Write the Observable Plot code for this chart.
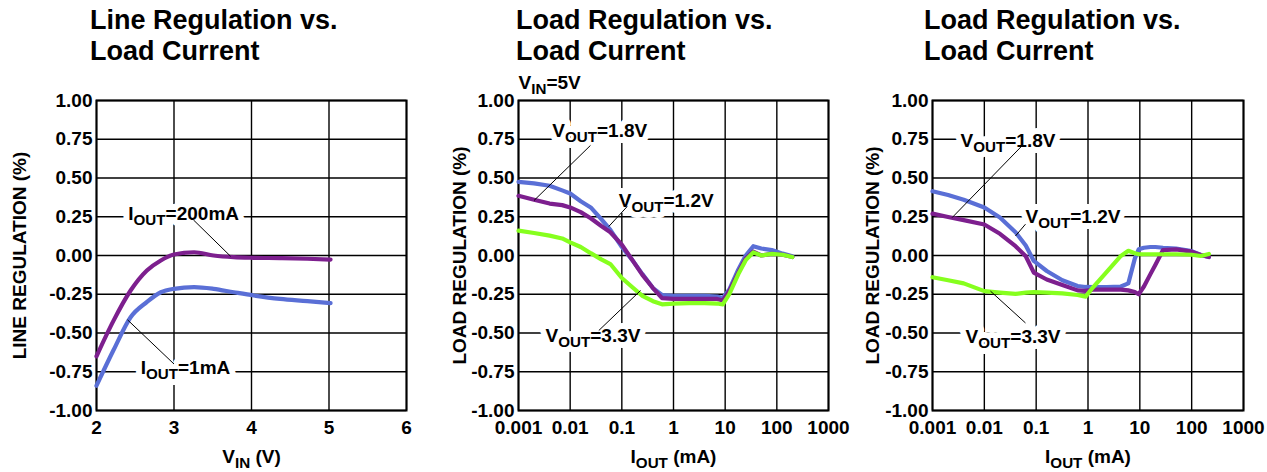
<!DOCTYPE html>
<html><head><meta charset="utf-8">
<script src="https://cdn.jsdelivr.net/npm/d3@7"></script>
<script src="https://cdn.jsdelivr.net/npm/@observablehq/plot@0.6"></script>
<style>
body{margin:0;background:#fff;}
#wrap{position:relative;width:1267px;height:472px;overflow:hidden;font-family:'Liberation Sans',Arial,sans-serif;background:#fff;}
.title{position:absolute;font-weight:bold;font-size:27px;line-height:31px;letter-spacing:0px;color:#000;white-space:nowrap;}
.panel{position:absolute;top:0;}
</style></head><body><div id="wrap"></div>
<script>
// ---------- tick values ----------
const yTicks = [-1, -0.75, -0.5, -0.25, 0, 0.25, 0.5, 0.75, 1];
const vinTicks = [2, 3, 4, 5, 6];
const ioutTicks = [0.001, 0.01, 0.1, 1, 10, 100, 1000];

// ---------- titles / axis labels ----------
const titles = [["Line Regulation vs.", "Load Current"], ["Load Regulation vs.", "Load Current"], ["Load Regulation vs.", "Load Current"]];
const yLabels = ["LINE REGULATION (%)", "LOAD REGULATION (%)", "LOAD REGULATION (%)"];
const xLabels = ["V|IN| (V)", "I|OUT| (mA)", "I|OUT| (mA)"];
const condition2 = "V|IN|=5V";

// ---------- panel 1: line regulation vs VIN ----------
const p1Vin    = [2.0, 2.22, 2.44, 2.65, 2.83, 3.0, 3.26, 3.51, 3.77, 4.03, 4.37, 4.72, 5.02];
const p1I200mA = [-0.65, -0.42, -0.226, -0.097, -0.032, 0.006, 0.021, 0.0, -0.011, -0.015, -0.017, -0.021, -0.026];
const p1I1mA   = [-0.84, -0.61, -0.398, -0.30, -0.237, -0.215, -0.204, -0.215, -0.237, -0.258, -0.28, -0.294, -0.307];
const p1Labels = [{x: 2.41, y: 0.232, text: "I|OUT|=200mA"}, {x: 2.57, y: -0.765, text: "I|OUT|=1mA"}];
const p1Leaders = [{x1: 3.25, y1: 0.23, x2: 3.73, y2: -0.005}, {x1: 2.40, y1: -0.415, x2: 3.0, y2: -0.70}];

// ---------- panel 2: load regulation vs IOUT (VIN=5V) ----------
const p2Iout   = [0.001, 0.002, 0.004, 0.007, 0.01, 0.016, 0.025, 0.04, 0.06, 0.1, 0.16, 0.25, 0.4, 0.6, 1, 2, 4, 7, 9, 12, 18, 25, 35, 50, 80, 130, 200];
const p2V18    = [0.475, 0.465, 0.45, 0.42, 0.40, 0.35, 0.31, 0.235, 0.165, 0.055, -0.03, -0.12, -0.21, -0.255, -0.26, -0.26, -0.26, -0.265, -0.275, -0.22, -0.09, 0.0, 0.06, 0.045, 0.035, 0.012, -0.005];
const p2V12    = [0.385, 0.36, 0.335, 0.325, 0.31, 0.28, 0.24, 0.19, 0.15, 0.07, -0.03, -0.125, -0.21, -0.275, -0.28, -0.28, -0.28, -0.28, -0.29, -0.23, -0.11, -0.02, 0.025, 0.0, 0.01, 0.005, -0.01];
const p2V33    = [0.16, 0.145, 0.128, 0.11, 0.085, 0.055, 0.015, -0.025, -0.055, -0.145, -0.205, -0.26, -0.295, -0.315, -0.31, -0.307, -0.307, -0.31, -0.316, -0.25, -0.12, -0.03, 0.02, 0.0, 0.01, 0.005, -0.01];
const p2Labels = [{x: 0.0045, y: 0.763, text: "V|OUT|=1.8V"}, {x: 0.087, y: 0.316, text: "V|OUT|=1.2V"}, {x: 0.00333, y: -0.555, text: "V|OUT|=3.3V"}];
const p2Leaders = [{x1: 0.0247, y1: 0.71, x2: 0.002, y2: 0.355}, {x1: 0.127, y1: 0.316, x2: 0.0558, y2: 0.187}, {x1: 0.0358, y1: -0.484, x2: 0.23, y2: -0.226}];

// ---------- panel 3: load regulation vs IOUT ----------
const p3Iout   = [0.001, 0.002, 0.004, 0.01, 0.02, 0.04, 0.063, 0.09, 0.16, 0.32, 0.63, 0.9, 1.25, 2.3, 4.3, 6, 8, 9.5, 12, 16, 20, 28, 50, 100, 150, 215];
const p3V18    = [0.415, 0.39, 0.36, 0.31, 0.245, 0.15, 0.065, -0.035, -0.10, -0.16, -0.197, -0.203, -0.204, -0.204, -0.20, -0.18, -0.02, 0.04, 0.05, 0.055, 0.055, 0.05, 0.045, 0.028, 0.003, -0.01];
const p3V12    = [0.27, 0.248, 0.228, 0.20, 0.14, 0.06, -0.005, -0.11, -0.155, -0.19, -0.225, -0.228, -0.22, -0.22, -0.22, -0.225, -0.235, -0.25, -0.20, -0.12, -0.06, 0.035, 0.04, 0.025, 0.003, -0.01];
const p3V33    = [-0.14, -0.16, -0.18, -0.23, -0.24, -0.248, -0.24, -0.236, -0.24, -0.244, -0.255, -0.265, -0.205, -0.105, -0.003, 0.03, 0.015, 0.008, 0.008, 0.008, 0.008, 0.008, 0.008, 0.005, -0.003, 0.01];
const p3Labels = [{x: 0.00347, y: 0.698, text: "V|OUT|=1.8V"}, {x: 0.0622, y: 0.212, text: "V|OUT|=1.2V"}, {x: 0.00434, y: -0.566, text: "V|OUT|=3.3V"}];
const p3Leaders = [{x1: 0.0538, y1: 0.709, x2: 0.0024, y2: 0.245}, {x1: 0.0622, y1: 0.202, x2: 0.0399, y2: 0.126}, {x1: 0.0622, y1: -0.435, x2: 0.01315, y2: -0.23}];

// ---------- colours ----------
const BLUE = "#5a6fd6", PURPLE = "#7d1f8e", GREEN = "#86ff1e";
const FONT = "'Liberation Sans', Arial, Helvetica, sans-serif";

const pts = (xs, ys) => xs.map((x, i) => ({x, y: ys[i]}));

function subscripts(svg) {
  d3.select(svg).selectAll("text").each(function () {
    const str = this.textContent;
    if (!str.includes("|")) return;
    const [a, b, c] = str.split("|");
    const t = d3.select(this);
    t.text(null);
    t.append("tspan").text(a);
    t.append("tspan").attr("dy", 5).attr("font-size", "0.8em").text(b);
    t.append("tspan").attr("dy", -5).text(c);
  });
}

function panel({left, width, marginLeft, marginRight, xType, xDomain, xTicks, xFormat, series, labels, leaders, xLabel, yLabel, yLabelDx, curve, extra = []}) {
  const labelOpts = {x: "x", y: "y", text: "text", textAnchor: "start", lineAnchor: "bottom", fontSize: 19, fontWeight: "bold"};
  const svg = Plot.plot({
    width, height: 472,
    marginTop: 100, marginBottom: 62, marginLeft, marginRight,
    style: {fontFamily: FONT, fontSize: "19px", fontWeight: "bold", color: "#000", background: "#fff", overflow: "visible"},
    x: {type: xType, domain: xDomain, ticks: xTicks, tickFormat: xFormat, tickSize: 0, tickPadding: 10, label: null},
    y: {domain: [-1, 1], ticks: yTicks, tickFormat: d => d.toFixed(2), tickSize: 0, tickPadding: 4, label: null},
    marks: [
      Plot.ruleY(yTicks, {stroke: "#000", strokeWidth: 1.4}),
      Plot.ruleX(xTicks, {stroke: "#000", strokeWidth: 1.4}),
      // white box behind each label (halo layer), then the label itself
      Plot.text(labels, {...labelOpts, fill: "#fff", stroke: "#fff", strokeWidth: 12, strokeLinejoin: "round"}),
      Plot.frame({stroke: "#000", strokeWidth: 2}),
      Plot.text(labels, {...labelOpts, fill: "#000"}),
      ...series.map(s => Plot.line(pts(s.x, s.y), {x: "x", y: "y", stroke: s.color, strokeWidth: 4.2, curve})),
      Plot.link(leaders, {x1: "x1", y1: "y1", x2: "x2", y2: "y2", stroke: "#000", strokeWidth: 1}),
      Plot.text([xLabel], {text: d => d, frameAnchor: "bottom", textAnchor: "middle", lineAnchor: "bottom", dy: 52, fontSize: 19, fontWeight: "bold"}),
      Plot.text([yLabel], {text: d => d, frameAnchor: "left", textAnchor: "middle", lineAnchor: "middle", rotate: -90, dx: yLabelDx, fontSize: 19, fontWeight: "bold"}),
      ...extra
    ]
  });
  subscripts(svg);
  const div = document.createElement("div");
  div.className = "panel";
  div.style.left = left + "px";
  div.style.width = width + "px";
  div.appendChild(svg);
  document.getElementById("wrap").appendChild(div);
}

panel({
  left: 0, width: 420, marginLeft: 96, marginRight: 14,
  xType: "linear", xDomain: [2, 6], xTicks: vinTicks, xFormat: d => String(d),
  series: [{x: p1Vin, y: p1I200mA, color: PURPLE}, {x: p1Vin, y: p1I1mA, color: BLUE}],
  labels: p1Labels, leaders: p1Leaders, xLabel: xLabels[0], yLabel: yLabels[0], yLabelDx: -77, curve: "monotone-x"
});
panel({
  left: 430, width: 420, marginLeft: 88, marginRight: 22,
  xType: "log", xDomain: [0.001, 1000], xTicks: ioutTicks, xFormat: d => String(d),
  series: [{x: p2Iout, y: p2V18, color: BLUE}, {x: p2Iout, y: p2V12, color: PURPLE}, {x: p2Iout, y: p2V33, color: GREEN}],
  labels: p2Labels, leaders: p2Leaders, xLabel: xLabels[1], yLabel: yLabels[1], yLabelDx: -59, curve: "linear",
  extra: [Plot.text([condition2], {text: d => d, frameAnchor: "top-left", textAnchor: "start", lineAnchor: "bottom", dy: -12, fontSize: 19, fontWeight: "bold"})]
});
panel({
  left: 850, width: 417, marginLeft: 82, marginRight: 24,
  xType: "log", xDomain: [0.001, 1000], xTicks: ioutTicks, xFormat: d => String(d),
  series: [{x: p3Iout, y: p3V18, color: BLUE}, {x: p3Iout, y: p3V12, color: PURPLE}, {x: p3Iout, y: p3V33, color: GREEN}],
  labels: p3Labels, leaders: p3Leaders, xLabel: xLabels[2], yLabel: yLabels[2], yLabelDx: -60, curve: "linear"
});

// titles: two lines each
const titleLeft = [90, 516, 924];
const titleTop = [5, 36];
titles.forEach((lines, i) => {
  lines.forEach((line, j) => {
    const d = document.createElement("div");
    d.className = "title";
    d.style.left = titleLeft[i] + "px";
    d.style.top = titleTop[j] + "px";
    d.textContent = line;
    document.getElementById("wrap").appendChild(d);
  });
});
</script>
</body></html>
